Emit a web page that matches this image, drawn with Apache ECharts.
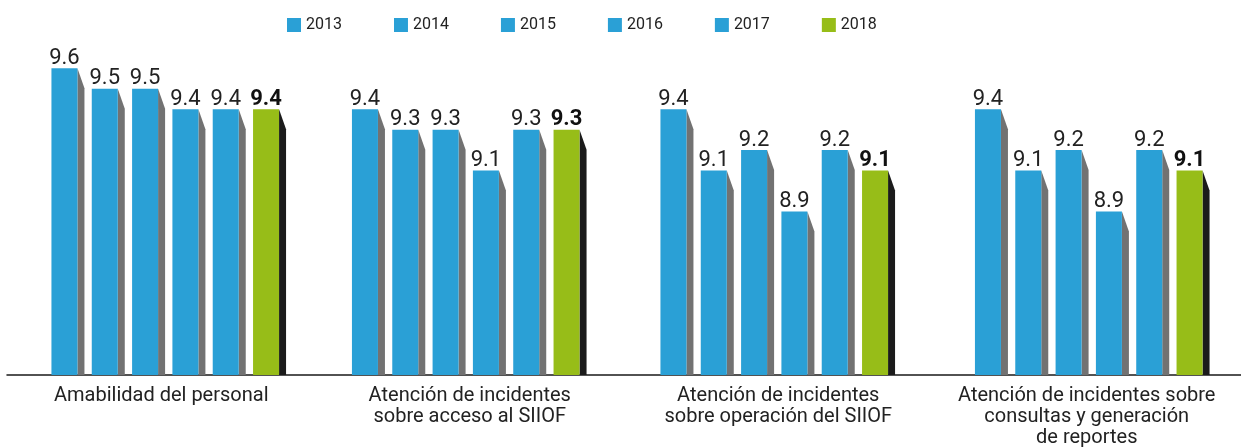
<!DOCTYPE html>
<html>
<head>
<meta charset="utf-8">
<script src="https://cdn.jsdelivr.net/npm/echarts@6/dist/echarts.min.js"></script>
<style>
html,body{margin:0;padding:0;background:#fff;}
#chart{width:1241px;height:448px;}
</style>
</head>
<body>
<div id="chart"></div>
<script>
const categories = [
  'Amabilidad del personal',
  'Atención de incidentes\nsobre acceso al SIIOF',
  'Atención de incidentes\nsobre operación del SIIOF',
  'Atención de incidentes sobre\nconsultas y generación\nde reportes'
];
const years = ['2013', '2014', '2015', '2016', '2017', '2018'];
const v2013 = [9.6, 9.4, 9.4, 9.4];
const v2014 = [9.5, 9.3, 9.1, 9.1];
const v2015 = [9.5, 9.3, 9.2, 9.2];
const v2016 = [9.4, 9.1, 8.9, 8.9];
const v2017 = [9.4, 9.3, 9.2, 9.2];
const v2018 = [9.4, 9.3, 9.1, 9.1];
const seriesValues = [v2013, v2014, v2015, v2016, v2017, v2018];

const AXIS_MIN = 8.1;
const BLUE = '#2aa0d6', BLUE_SIDE = '#727272';
const GREEN = '#97bd18', GREEN_SIDE = '#1b1b1b';
const groupShift = [4, -4, -4, 2];

function makeRender(sIdx, front, side, bold) {
  return function (params, api) {
    const cat = api.value(0), val = api.value(1);
    const top = api.coord([cat, val]);
    const base = api.coord([cat, AXIS_MIN]);
    const band = api.size([1, 0])[0];
    const pitch = band * 0.1307;
    const fw = band * 0.0843;
    const sw = 7, drop = 20;
    const x0 = top[0] - (5 * pitch + fw) / 2 + sIdx * pitch + groupShift[cat];
    const y0 = top[1], yb = base[1];
    return {
      type: 'group',
      children: [
        { type: 'polygon', shape: { points: [[x0 + fw, y0], [x0 + fw + sw, y0 + drop], [x0 + fw + sw, yb], [x0 + fw, yb]] }, style: { fill: side } },
        { type: 'rect', shape: { x: x0, y: y0, width: fw, height: yb - y0 }, style: { fill: front } },
        { type: 'text', style: { text: val.toFixed(1), x: x0 + fw / 2, y: y0 + 1, align: 'center', verticalAlign: 'bottom',
          fontFamily: 'Roboto', fontSize: 22, fontWeight: bold ? 'bold' : 'normal', fill: bold ? '#111' : '#222' } }
      ]
    };
  };
}

const series = years.map((y, i) => {
  const is18 = i === 5;
  return {
    name: y,
    type: 'custom',
    itemStyle: { color: is18 ? GREEN : BLUE },
    encode: { x: 0, y: 1 },
    data: seriesValues[i].map((v, c) => [c, v]),
    renderItem: makeRender(i, is18 ? GREEN : BLUE, is18 ? GREEN_SIDE : BLUE_SIDE, is18),
    z: 2
  };
});

const chart = echarts.init(document.getElementById('chart'), null, { renderer: 'canvas' });
chart.setOption({
  animation: false,
  backgroundColor: '#fff',
  graphic: [{
    type: 'text', left: 55, top: -16,
    style: { text: '(Calificación promedio)', fontFamily: 'Roboto', fontSize: 16, fill: '#aaa' }
  }],
  legend: {
    left: 282, top: 12,
    icon: 'rect', itemWidth: 14, itemHeight: 14, itemGap: 52,
    textStyle: { fontFamily: 'Roboto', fontSize: 16, color: '#222' },
    data: years
  },
  grid: { left: 7, right: 0, top: 7, bottom: 72, containLabel: false },
  xAxis: {
    type: 'category',
    data: categories,
    axisLine: { lineStyle: { color: '#1a1a1a', width: 1.5 } },
    axisTick: { show: false },
    axisLabel: { interval: 0, margin: 10, fontFamily: 'Roboto', fontSize: 20, lineHeight: 21, color: '#222', align: 'center' }
  },
  yAxis: { type: 'value', min: AXIS_MIN, max: 9.9, show: false, splitLine: { show: false } },
  series: series
});
</script>
</body>
</html>
